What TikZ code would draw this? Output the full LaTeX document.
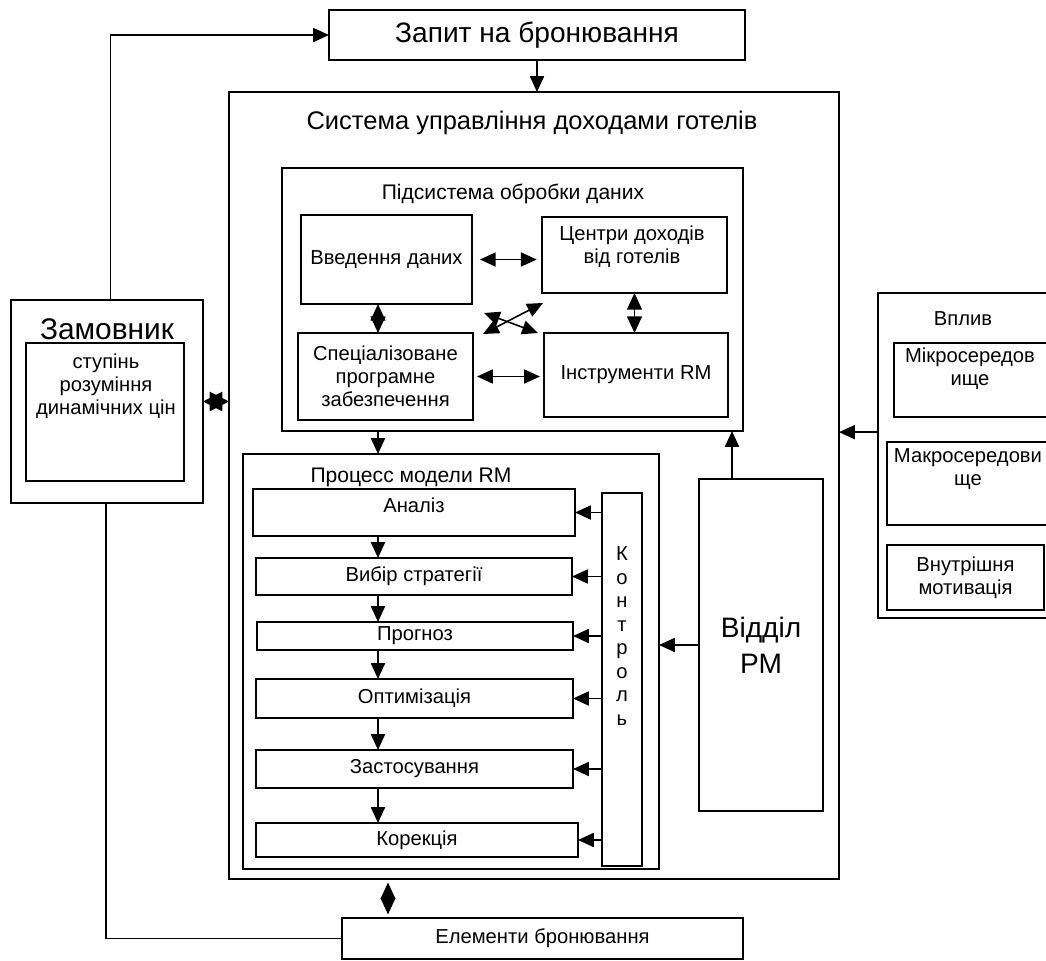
\documentclass[tikz,border=0pt]{standalone}
\usepackage{fontspec}
\setmainfont{Liberation Sans}
\usetikzlibrary{positioning,arrows.meta,calc}

\tikzset{
  blk/.style={draw, line width=0.9pt, inner sep=0pt, outer sep=0pt, align=center,
    font=\fontsize{11.5}{13}\selectfont},
  wh/.style 2 args={minimum width=#1*0.02cm, minimum height=#2*0.02cm},
  txt/.style={inner sep=0pt, align=center, font=\fontsize{11.5}{13}\selectfont},
  ln/.style={line width=0.9pt},
  arr/.style={line width=0.9pt, -{Triangle[length=9pt,width=8pt]}},
  dbl/.style={line width=0.9pt, {Triangle[length=9pt,width=8pt]}-{Triangle[length=9pt,width=8pt]}},
  dblbig/.style={line width=0.9pt, {Triangle[length=9.5pt,width=8.5pt]}-{Triangle[length=9.5pt,width=8.5pt]}},
  starr/.style={line width=0.9pt, {Triangle[length=11pt,width=11pt]}-{Triangle[length=11pt,width=11pt]}},
}

\begin{document}
\begin{tikzpicture}[x=0.02cm, y=-0.02cm]
  \useasboundingbox (0,0) rectangle (1046,961);
  % columns of the vertical arrows
  \coordinate (ax) at (378,0);
  \coordinate (bx) at (732,0);
  \coordinate (cx) at (388,0);

  \node[blk, wh={416}{50}, font=\fontsize{16}{19}\selectfont] (zapyt) at (537,35) {Запит на бронювання};
  \node[blk, wh={610}{787}] (sys) at (534,485.5) {};
  \node[txt, font=\fontsize{14.5}{17}\selectfont] (systitle) at (532,123) {Система управління доходами готелів};

  % data subsystem
  \node[blk, wh={461}{263}] (subsys) at (512.5,299.5) {};
  \node[txt, font=\fontsize{12}{14}\selectfont] (subtitle) at (513,194) {Підсистема обробки даних};
  \node[blk, wh={171}{89}] (vved) at (386.5,259.5) {Введення даних};
  \node[blk, wh={185}{76}] (tsentr) at (634.5,255) {};
  \node[txt] (tsentrtxt) at (632,247) {Центри доходів\\від готелів};
  \node[blk, wh={175}{87}] (spets) at (385.5,376.5) {Спеціалізоване\\програмне\\забезпечення};
  \node[blk, wh={184}{84}] (instr) at (636,375) {Інструменти RM};

  % RM process
  \node[blk, wh={416}{415}] (proc) at (451,661.5) {};
  \node[txt, font=\fontsize{12}{14}\selectfont] (proctitle) at (411,477) {Процесс модели RM};
  \node[blk, wh={322}{47}] (analiz) at (414,512.5) {};
  \node[txt] (analiztxt) at (414,505) {Аналіз};
  \node[blk, wh={316}{37}] (vybir) at (414,576.5) {Вибір стратегії};
  \node[blk, wh={316}{28}] (prognoz) at (415,636) {Прогноз};
  \node[blk, wh={317}{39}] (optym) at (414.5,698.5) {Оптимізація};
  \node[blk, wh={317}{38}] (zastos) at (414.5,769) {Застосування};
  \node[blk, wh={322}{34}] (korek) at (417,840) {Корекція};
  \node[blk, wh={40}{373}] (kontrol) at (622,679.5) {};
  \node[txt, font=\fontsize{11.5}{13.4}\selectfont] (kontroltxt) at (622,636) {К\\о\\н\\т\\р\\о\\л\\ь};
  \node[blk, wh={124}{332}, font=\fontsize{16}{20.5}\selectfont] (viddil) at (761,645) {Відділ\\РМ};

  % customer
  \node[blk, wh={192}{203}] (zamov) at (107,401.5) {};
  \node[txt, font=\fontsize{17}{20}\selectfont] (zamovtxt) at (107,329) {Замовник};
  \node[blk, wh={158}{138}] (zamin) at (105,412) {};
  \node[txt] (zamintxt) at (106,386) {ступінь\\розуміння\\динамічних цін};

  \node[blk, wh={401}{41}] (elem) at (542.5,938.5) {Елементи бронювання};

  % influence
  \node[blk, wh={192}{325}] (vplyv) at (974,455.5) {};
  \node[txt] (vplyvtxt) at (963,319) {Вплив};
  \node[blk, wh={156}{74}] (mikro) at (972,380) {};
  \node[txt] (mikrotxt) at (970,369) {Мікросередов\\ище};
  \node[blk, wh={163}{83}] (makro) at (968.5,483.5) {};
  \node[txt] (makrotxt) at (968,469) {Макросередови\\ще};
  \node[blk, wh={157}{65}] (vnutr) at (965.5,577.5) {Внутрішня\\мотивація};

  % connectors
  \draw[arr] (zapyt.south) -- (zapyt.south |- sys.north);
  \draw[arr] ([xshift=2pt]zamov.north) |- (zapyt.west);
  \draw[ln] ([xshift=-0.5pt]zamov.south) |- (elem.west);
  \draw[starr] (zamov.east) -- (zamov.east -| sys.west);
  \draw[dblbig, shorten <=2pt, shorten >=2pt] (sys.south -| cx) -- (elem.north -| cx);
  \draw[arr] ([yshift=13.3pt]vplyv.west) -- ([yshift=13.3pt]vplyv.west -| sys.east);

  \draw[dbl, shorten <=4.5pt, shorten >=3pt] (vved.east) -- (tsentr.west |- vved.east);
  \draw[dbl, shorten <=2.3pt, shorten >=2.3pt] (spets.east) -- (instr.west |- spets.east);
  \draw[dblbig] (vved.south -| ax) -- (spets.north -| ax);
  \draw[dblbig] (tsentr.south) -- (tsentr.south |- instr.north);
  \draw[dbl] ($(spets.north east)+(10,1)$) -- ($(tsentr.south west)+(1,10)$);
  \draw[dbl] ($(vved.south east)+(12,9)$) -- ($(instr.north west)+(-6,0)$);

  \draw[arr] (subsys.south -| ax) -- (proc.north -| ax);
  \foreach \a/\b in {analiz/vybir, vybir/prognoz, prognoz/optym, optym/zastos, zastos/korek}
    \draw[arr] (\a.south -| ax) -- (\b.north -| ax);
  \foreach \st in {analiz, vybir, prognoz, optym, zastos, korek}
    \draw[arr] (kontrol.west |- \st.east) -- (\st.east);
  \draw[arr] (viddil.west) -- (viddil.west -| proc.east);
  \draw[arr] (viddil.north -| bx) -- (subsys.south -| bx);
\end{tikzpicture}
\end{document}
